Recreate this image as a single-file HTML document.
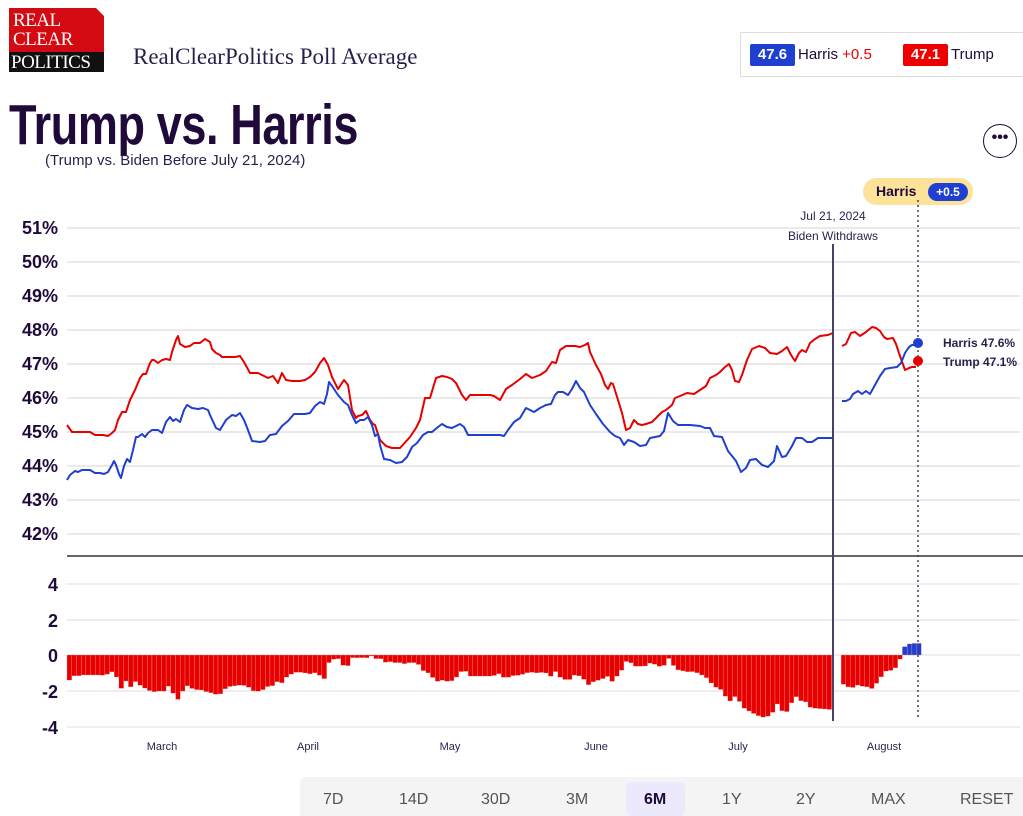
<!DOCTYPE html>
<html><head><meta charset="utf-8"><style>
body{margin:0;width:1023px;height:816px;overflow:hidden;background:#fff;font-family:"Liberation Sans",sans-serif;position:relative}
.a{position:absolute;white-space:nowrap}
</style></head><body>
<div class="a" style="left:9px;top:8px;width:95px;height:44px;background:#d40a12"></div>
<div class="a" style="left:9px;top:52px;width:95px;height:20px;background:#111"></div>
<div class="a" style="left:96px;top:8px;width:8px;height:8px;background:#fff;clip-path:polygon(0 0,100% 0,100% 100%)"></div>
<div class="a" style="left:13px;top:11px;color:#fff;font:19px/19px 'Liberation Serif',serif;letter-spacing:-0.5px">REAL<br>CLEAR</div>
<div class="a" style="left:11px;top:53px;color:#fff;font:19px/19px 'Liberation Serif',serif;letter-spacing:-0.5px">POLITICS</div>
<div class="a" style="left:133px;top:44px;color:#2a1f4a;font:23px 'Liberation Serif',serif">RealClearPolitics Poll Average</div>
<div class="a" style="left:9px;top:94px;color:#1f0a3a;font:bold 57px/62px 'Liberation Sans',sans-serif;letter-spacing:-0.5px;transform:scaleX(0.79);transform-origin:0 0">Trump vs. Harris</div>
<div class="a" style="left:45px;top:152px;color:#2a1f4a;font:15px 'Liberation Sans',sans-serif">(Trump vs. Biden Before July 21, 2024)</div>
<div class="a" style="left:740px;top:32px;width:290px;height:45px;border:1px solid #ddd;box-sizing:border-box"></div>
<div class="a" style="left:750px;top:44px;width:45px;height:22px;background:#1f3fd0;color:#fff;font:bold 15px/22px 'Liberation Sans';text-align:center;border-radius:2px">47.6</div>
<div class="a" style="left:798px;top:46px;color:#1f0a3a;font:15px 'Liberation Sans'">Harris <span style="color:#e00">+0.5</span></div>
<div class="a" style="left:903px;top:44px;width:45px;height:22px;background:#e00;color:#fff;font:bold 15px/22px 'Liberation Sans';text-align:center;border-radius:2px">47.1</div>
<div class="a" style="left:951px;top:46px;color:#1f0a3a;font:15px 'Liberation Sans'">Trump</div>
<div class="a" style="left:983px;top:124px;width:34px;height:34px;border:1.5px solid #1f0a3a;border-radius:50%;box-sizing:border-box;text-align:center;font:bold 16px/26px 'Liberation Sans';color:#1f0a3a">•••</div>
<div class="a" style="left:863px;top:178px;width:110px;height:27px;background:#fde29a;border-radius:14px"></div>
<div class="a" style="left:876px;top:183px;color:#1f0a3a;font:bold 14px 'Liberation Sans'">Harris</div>
<div class="a" style="left:928px;top:183px;width:40px;height:18px;background:#1f3fd0;border-radius:9px;color:#fff;font:bold 12px/18px 'Liberation Sans';text-align:center">+0.5</div>
<svg class="a" style="left:0;top:0" width="1023" height="816" id="s"></svg>
<div class="a" style="left:300px;top:777px;width:723px;height:39px;background:#f4f4f4;border-radius:6px 0 0 0"></div>
<div class="a" style="left:626px;top:782px;width:59px;height:34px;background:#ebe9fb;border-radius:6px"></div>
<div class="a" style="left:300px;top:791px;width:723px;font:16px 'Liberation Sans';color:#555">
<span class="a" style="left:23px">7D</span><span class="a" style="left:99px">14D</span><span class="a" style="left:181px">30D</span><span class="a" style="left:266px">3M</span><span class="a" style="left:344px;color:#1f0a3a;font-weight:bold">6M</span><span class="a" style="left:422px">1Y</span><span class="a" style="left:496px">2Y</span><span class="a" style="left:571px">MAX</span><span class="a" style="left:660px">RESET</span></div>
<script>
var T=[[67,425],[72,432],[90,432],[95,435],[103,435],[108,436],[112,433],[115,430],[118,420],[122,412],[126,412],[130,400],[135,390],[140,378],[143,374],[146,374],[150,363],[152,360],[154,360],[158,363],[162,360],[166,359],[170,360],[172,352],[176,340],[178,336],[180,344],[185,347],[190,346],[194,343],[200,343],[205,339],[210,342],[212,349],[216,353],[220,355],[222,357],[235,357],[240,356],[244,362],[250,373],[258,373],[262,375],[268,378],[273,376],[278,383],[282,373],[286,380],[292,381],[300,381],[305,380],[310,377],[315,372],[320,363],[324,358],[328,365],[332,377],[338,389],[344,380],[348,385],[352,410],[356,418],[358,416],[362,415],[366,411],[370,420],[373,424],[375,425],[380,440],[386,446],[392,448],[400,448],[410,437],[416,428],[420,420],[425,398],[430,398],[436,378],[442,376],[447,377],[452,379],[456,383],[462,395],[466,400],[470,395],[490,395],[494,396],[500,400],[506,389],[512,385],[520,379],[526,374],[532,378],[540,375],[546,371],[552,362],[556,363],[560,350],[566,346],[575,346],[580,347],[585,345],[588,343],[590,352],[596,365],[601,374],[605,385],[608,389],[611,383],[613,384],[618,400],[622,413],[626,430],[630,428],[634,420],[638,424],[642,425],[646,424],[652,422],[656,418],[662,412],[666,410],[672,405],[675,398],[680,396],[687,393],[694,394],[700,390],[706,386],[710,378],[716,375],[720,372],[725,367],[729,364],[732,370],[735,381],[739,382],[742,375],[747,360],[752,349],[759,346],[765,348],[770,353],[777,354],[782,351],[787,347],[791,355],[795,361],[799,353],[802,350],[806,352],[810,343],[815,339],[820,336],[828,335],[833,333],null,[842,346],[846,344],[851,333],[855,332],[860,336],[866,332],[872,327],[876,328],[880,331],[884,337],[887,339],[893,338],[896,344],[900,356],[905,370],[909,368],[912,367],[916,367]];
var H=[[67,480],[70,475],[75,471],[78,472],[82,470],[90,470],[95,473],[100,473],[104,474],[108,472],[112,465],[114,461],[116,465],[119,474],[121,478],[124,466],[127,459],[130,462],[133,450],[136,437],[138,437],[142,434],[145,437],[148,433],[152,430],[158,430],[162,433],[166,422],[170,417],[173,421],[176,419],[180,422],[184,410],[187,405],[192,408],[198,409],[203,408],[208,410],[210,415],[216,428],[220,430],[226,420],[232,415],[236,416],[240,413],[244,420],[248,430],[252,441],[260,442],[265,441],[270,435],[276,434],[282,426],[288,421],[294,414],[300,414],[305,414],[310,413],[315,406],[320,402],[324,404],[327,394],[329,382],[332,386],[338,395],[344,402],[348,405],[352,415],[356,423],[360,420],[364,420],[368,417],[372,425],[375,436],[378,434],[380,445],[384,459],[390,460],[396,463],[402,462],[407,457],[412,447],[417,443],[423,435],[428,432],[432,432],[438,427],[442,424],[447,427],[452,428],[456,426],[460,424],[464,427],[468,435],[476,435],[500,435],[504,436],[508,430],[514,422],[520,418],[526,408],[530,410],[534,412],[540,408],[546,405],[551,404],[555,395],[558,392],[563,392],[568,395],[572,389],[576,381],[580,388],[584,392],[590,405],[596,414],[603,424],[610,432],[615,436],[620,438],[624,445],[628,440],[634,442],[640,446],[646,445],[650,438],[655,437],[660,436],[664,431],[668,413],[673,421],[678,425],[690,425],[700,426],[705,428],[710,428],[714,436],[722,437],[728,451],[736,461],[741,472],[746,468],[750,460],[756,459],[762,465],[768,467],[774,461],[777,446],[782,457],[786,456],[792,446],[796,438],[802,438],[807,442],[812,442],[818,438],[824,438],[833,438],null,[842,401],[846,401],[850,399],[853,394],[858,391],[862,394],[866,391],[870,394],[875,385],[880,376],[885,369],[890,368],[897,367],[901,363],[905,353],[909,347],[912,345],[916,345]];
var s='';
function t(x,y,txt,o){s+='<text x="'+x+'" y="'+y+'" '+o+'>'+txt+'</text>';}
var pl=[51,50,49,48,47,46,45,44,43,42];
pl.forEach(function(p,i){var y=228+i*34;s+='<line x1="67" x2="1020" y1="'+y+'" y2="'+y+'" stroke="#e3e3e3" stroke-width="1.5"/>';t(58,y+6,p+'%','text-anchor="end" font-size="18" font-weight="bold" fill="#1f0a3a"');});
[[4,584],[2,620],[0,655],[-2,691],[-4,727]].forEach(function(a){s+='<line x1="67" x2="1020" y1="'+a[1]+'" y2="'+a[1]+'" stroke="#e3e3e3" stroke-width="1.2"/>';t(58,a[1]+7,a[0],'text-anchor="end" font-size="18" font-weight="bold" fill="#1f0a3a"');});
s+='<line x1="67" x2="1023" y1="556" y2="556" stroke="#666" stroke-width="2"/>';
function path(A,c){var d='',m=true;A.forEach(function(p){if(!p){m=true;return;}d+=(m?'M':'L')+p[0]+','+p[1];m=false;});s+='<path d="'+d+'" fill="none" stroke="'+c+'" stroke-width="2" stroke-linejoin="round"/>';}
function interp(A,x){for(var i=0;i<A.length-1;i++){var a=A[i],b=A[i+1];if(a&&b&&x>=a[0]&&x<=b[0]){return a[1]+(b[1]-a[1])*(x-a[0])/(b[0]-a[0]);}}return null;}
for(var x=67;x<918;x+=4.72){var cx=x+2.36;var yt=interp(T,Math.min(cx,916)),yh=interp(H,Math.min(cx,916));if(yt==null||yh==null)continue;var sp=(yt-yh)/34;var h=sp*17.9;var col=sp<0?'#e60000':'#1f3fd0';var y=h<0?655:655-h;s+='<rect x="'+x.toFixed(1)+'" y="'+y.toFixed(1)+'" width="4.72" height="'+Math.max(Math.abs(h),0.5).toFixed(1)+'" fill="'+col+'" stroke="#f5a0a0" stroke-width="0.3"/>';}
path(T,'#e60000');path(H,'#1f3fd0');
s+='<line x1="833" x2="833" y1="244" y2="721" stroke="#4a3f66" stroke-width="2"/>';
s+='<line x1="918" x2="918" y1="200" y2="720" stroke="#4a3f66" stroke-width="1.5" stroke-dasharray="2,3"/>';
t(833,220,'Jul 21, 2024','text-anchor="middle" font-size="12" fill="#2a1f4a"');
t(833,240,'Biden Withdraws','text-anchor="middle" font-size="12" fill="#2a1f4a"');
s+='<circle cx="918" cy="343" r="5" fill="#1f3fd0"/><circle cx="918" cy="361" r="5" fill="#e60000"/>';
t(943,347,'Harris 47.6%','font-size="12" font-weight="bold" fill="#2a1f4a"');
t(943,366,'Trump 47.1%','font-size="12" font-weight="bold" fill="#2a1f4a"');
[['March',162],['April',308],['May',450],['June',596],['July',738],['August',884]].forEach(function(m){t(m[1],750,m[0],'text-anchor="middle" font-size="11" fill="#2a1f4a"');});
document.getElementById('s').innerHTML=s;
</script>
</body></html>
